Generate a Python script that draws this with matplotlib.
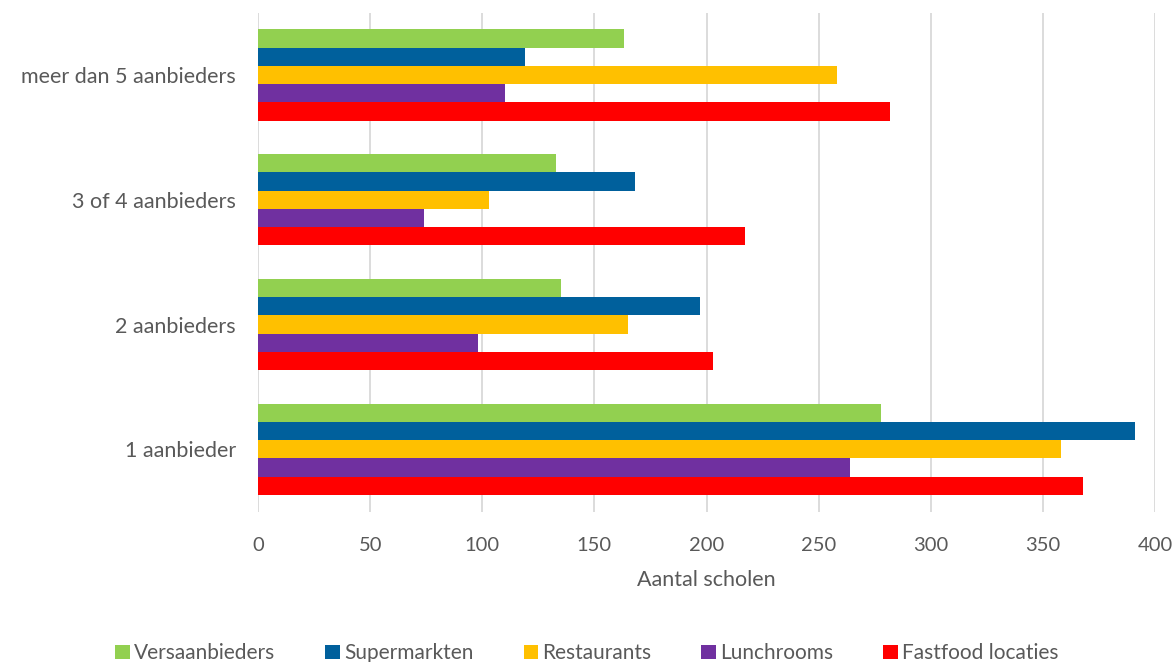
import numpy as np
import matplotlib
matplotlib.use("Agg")
import matplotlib.pyplot as plt

plt.rcParams['font.family'] = ['Lato', 'DejaVu Sans']

categories = ["1 aanbieder", "2 aanbieders", "3 of 4 aanbieders", "meer dan 5 aanbieders"]
series = ["Versaanbieders", "Supermarkten", "Restaurants", "Lunchrooms", "Fastfood locaties"]
versa = [278, 135, 133, 163]
supermarkt = [391, 197, 168, 119]
restaurants = [358, 165, 103, 258]
lunchrooms = [264, 98, 74, 110]
fastfood = [368, 203, 217, 282]
colors = ["#92D050", "#00609C", "#FFC000", "#7030A0", "#FF0000"]

values = [versa, supermarkt, restaurants, lunchrooms, fastfood]
grey = "#595959"

fig = plt.figure(figsize=(11.74, 6.62), dpi=100)
ax = fig.add_axes([0.2198, 0.227, 0.764, 0.754])

y = np.arange(len(categories))
h = 0.146
for i, (name, vals, c) in enumerate(zip(series, values, colors)):
    ax.barh(y + (2 - i) * h, vals, height=h, color=c, label=name, zorder=3)

ax.set_xlim(0, 400)
ax.set_ylim(-0.5, 3.5)
ax.set_xticks(np.arange(0, 401, 50))
ax.set_yticks(y)
ax.set_yticklabels(categories)
ax.tick_params(length=0, labelsize=14.5, colors=grey)
ax.tick_params(axis='x', pad=18)
ax.tick_params(axis='y', labelsize=15.5, pad=16)
ax.grid(axis='x', color="#D9D9D9", linewidth=1.3, zorder=0)
for s in ax.spines.values():
    s.set_visible(False)
ax.set_xlabel("Aantal scholen", fontsize=15.5, color=grey, labelpad=12)

fig.legend(loc='lower center', bbox_to_anchor=(0.5, -0.03), ncol=5, frameon=False,
           fontsize=15, labelcolor=grey, handlelength=0.7, handleheight=0.7,
           handletextpad=0.2, columnspacing=2.4)

fig.savefig("out.png", dpi=100)
